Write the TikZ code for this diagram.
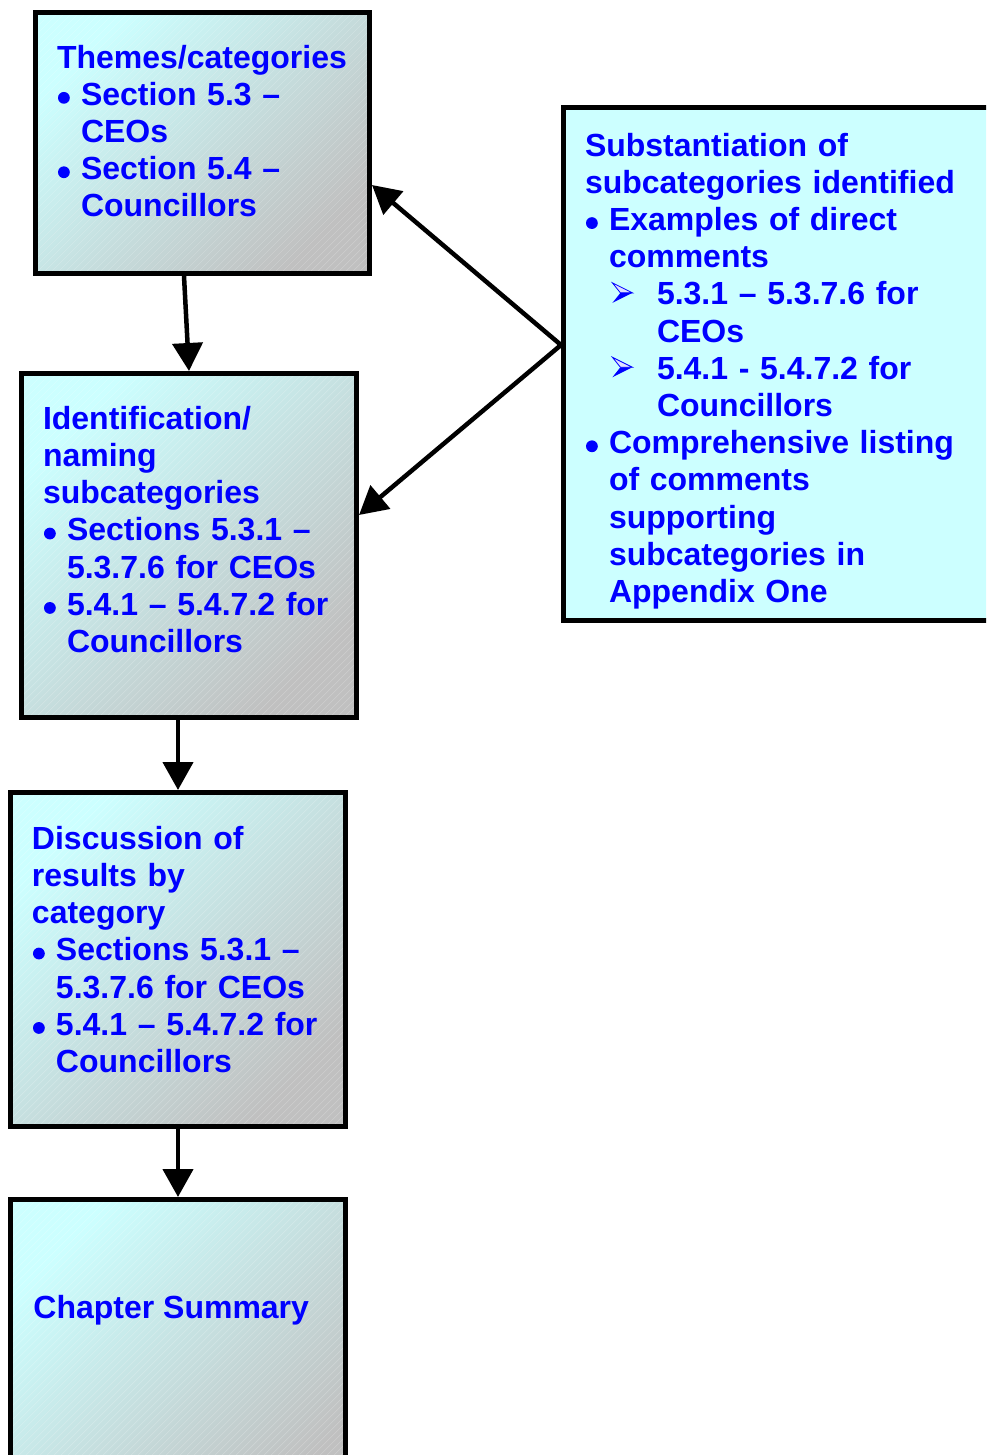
\documentclass[tikz,border=0pt]{standalone}
\usepackage{fontspec}
\setmainfont{Liberation Sans}
\usetikzlibrary{arrows.meta,shadings}
\definecolor{boxcyan}{RGB}{204,255,255}
\definecolor{boxgray}{RGB}{192,192,192}
\definecolor{txtblue}{RGB}{0,0,255}
\newcommand\bul{\makebox[12pt][l]{\hspace{0.5pt}\tikz[baseline=0pt, x=1cm, y=1cm]\fill[txtblue] (2.95pt,3.7pt) circle[radius=2.95pt];}}
\newcommand\subarr{\tikz[baseline=0pt, x=1cm, y=1cm, line width=0.4pt, line join=miter]{%
  \filldraw[draw=txtblue, fill=txtblue!12] (0pt,11pt) -- (10pt,6pt) -- (4pt,6pt) -- cycle;
  \fill[txtblue] (4pt,6pt) -- (10pt,6pt) -- (0pt,1pt) -- cycle;}}
\newcommand\bitem[1]{\par\hangindent=12pt\hangafter=1\noindent\bul#1\par}
\newcommand\sitem[1]{\par\hangindent=36pt\hangafter=1\noindent\hspace*{13.5pt}\makebox[22.5pt][l]{\subarr}#1\par}
\tikzset{
  txt/.style={font=\fontsize{16}{18.6}\selectfont\bfseries, text=txtblue},
  flowbox/.style={txt, draw=black, line width=2.5pt, anchor=north west,
    top color=boxcyan, bottom color=boxgray, shading angle=45,
    path picture={\foreach \k in {-50,...,50}
      \draw[white, opacity=0.2, line width=0.35pt]
        ([xshift=\k*3.5pt]path picture bounding box.south west) -- ++(200pt,200pt);},
    inner xsep=10.75pt, inner ysep=0pt, align=left},
  sidebox/.style={txt, draw=black, line width=2.5pt, anchor=north west,
    fill=boxcyan, inner xsep=10.75pt, inner ysep=0pt, align=left},
  arr/.style={line width=2.25pt, -{Triangle[length=14pt,width=15pt]}}
}
\begin{document}
\begin{tikzpicture}[x=0.5pt,y=-0.5pt]
\clip (0,0) rectangle (986,1455);
\node[flowbox, minimum width=167pt, minimum height=130.5pt, text width=145.5pt] (box1) at (33,10) {%
Themes/categories
\bitem{Section 5.3 –\newline CEOs}
\bitem{Section 5.4 –\newline Councillors}
\vspace{12pt}};
\node[flowbox, minimum width=167.5pt, minimum height=172pt, text width=146pt] (box2) at (19,371) {%
Identification/\newline naming\newline subcategories
\bitem{Sections 5.3.1 –\newline 5.3.7.6 for CEOs}
\bitem{5.4.1 – 5.4.7.2 for\newline Councillors}
\vspace{16pt}};
\node[flowbox, minimum width=167.5pt, minimum height=167pt, text width=146pt] (box3) at (8,790) {%
Discussion of\newline results by\newline category
\bitem{Sections 5.3.1 –\newline 5.3.7.6 for CEOs}
\bitem{5.4.1 – 5.4.7.2 for\newline Councillors}
\vspace{10pt}};
\node[flowbox, minimum width=167.5pt, minimum height=160pt, text width=146pt] (box4) at (8,1197) {};
\node[txt, anchor=base west, inner sep=0pt] (sumtxt) at (33,1318) {Chapter Summary};
\node[sidebox, minimum height=256.5pt, text width=200pt] (rbox) at (561,105) {%
Substantiation of\newline subcategories identified
\bitem{Examples of direct\newline comments}
\sitem{5.3.1 – 5.3.7.6 for\newline CEOs}
\sitem{5.4.1 - 5.4.7.2 for\newline Councillors}
\bitem{Comprehensive listing\newline of comments\newline supporting\newline subcategories in\newline Appendix One}
\vspace{-7pt}};
\coordinate (hub) at ([yshift=9.5pt]rbox.west);
\draw[arr] ([xshift=-9.25pt]box1.south) -- (box2.north);
\draw[arr] ([xshift=-5.5pt]box2.south) -- (box3.north);
\draw[arr] (box3.south) -- (box4.north);
\draw[arr] (hub) -- ([yshift=-21pt]box1.east);
\draw[arr] (hub) -- ([yshift=15.25pt]box2.east);
\end{tikzpicture}
\end{document}
